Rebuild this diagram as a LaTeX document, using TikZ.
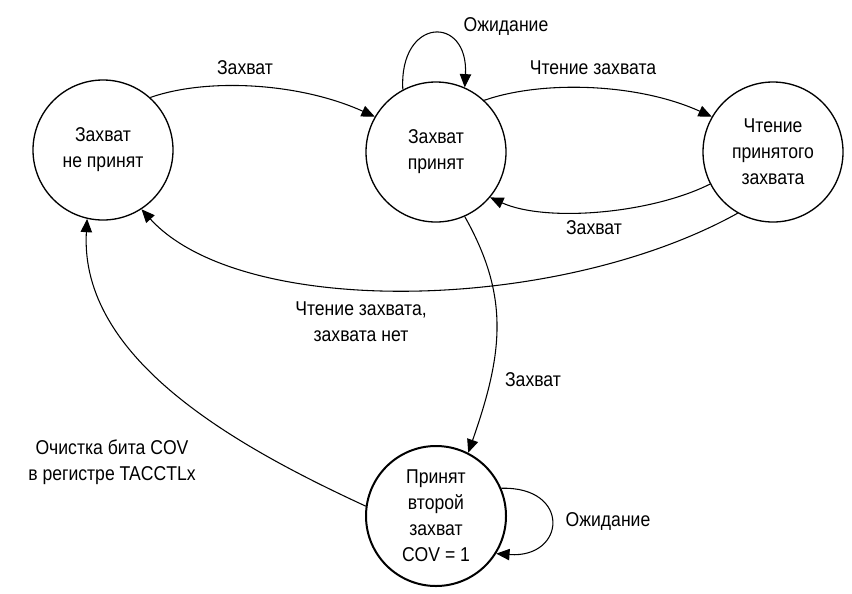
\documentclass[tikz,border=0pt]{standalone}
\usepackage{fontspec}
\setmainfont{Liberation Sans}[FakeStretch=0.88]
\usetikzlibrary{arrows.meta}

\begin{document}
\begin{tikzpicture}[x=0.75pt,y=0.75pt,yscale=-1,xscale=1,
  every node/.style={font=\fontsize{15}{19.5}\selectfont},
  state/.style={draw,circle,minimum size=105pt,inner sep=0pt,line width=1pt,align=center},
  arr/.style={line width=0.8pt,-{Triangle[length=10pt,width=8.5pt]}},
  lbl/.style={inner sep=0.75pt,align=center}]
\useasboundingbox (0,0) rectangle (852,593);

%Shape: Circle
\draw (103,150) node [state] (ncap) {Захват\\не принят};
%Shape: Circle
\draw (436,152) node [state] (cap) {Захват\\принят};
%Shape: Circle
\draw (773,152) node [state] (rdcap) {Чтение\\принятого\\захвата};
%Shape: Circle
\draw (436,516) node [state,line width=1.5pt] (ovf) {Принят\\второй\\захват\\COV = 1};

%Curve Lines
\draw [arr] (ncap.48) .. controls +(57,-20) and +(-75,-34) .. (cap.150) ;
%Curve Lines
\draw [arr] (cap.47) .. controls +(57,-20) and +(-75,-34) .. (rdcap.150) ;
%Curve Lines
\draw [arr] (rdcap.207) .. controls +(-60,30) and +(55,25) .. (cap.-40) ;
%Curve Lines
\draw [arr] (rdcap.240) .. controls +(-180,100) and +(100,110) .. (ncap.-57) ;
%Curve Lines
\draw [arr] (cap.-66) .. controls +(45,80) and +(35,-100) .. (ovf.63) ;
%Curve Lines
\draw [arr] (ovf.172) .. controls +(-130,-60) and +(-8,140) .. (ncap.-103) ;
%Curve Lines
\draw [arr] (cap.118) .. controls +(-4,-73) and +(4,-73) .. (cap.66) ;
%Curve Lines
\draw [arr] (ovf.23) .. controls +(70,-2) and +(70,5) .. (ovf.-32) ;

% Text Node
\draw (245,68) node [lbl] (lcap1) {Захват};
% Text Node
\draw (593,68) node [lbl] (lread) {Чтение захвата};
% Text Node
\draw (594,228) node [lbl] (lcap2) {Захват};
% Text Node
\draw (361,322) node [lbl] (lnone) {Чтение захвата,\\захвата нет};
% Text Node
\draw (533,380) node [lbl] (lcap3) {Захват};
% Text Node
\draw (112,462) node [lbl] (lclr) {Очистка бита COV\\в регистре TACCTLx};
% Text Node
\draw (506,27) node [lbl] (lwait1) {Ожидание};
% Text Node
\draw (608,521) node [lbl] (lwait2) {Ожидание};

\end{tikzpicture}
\end{document}
